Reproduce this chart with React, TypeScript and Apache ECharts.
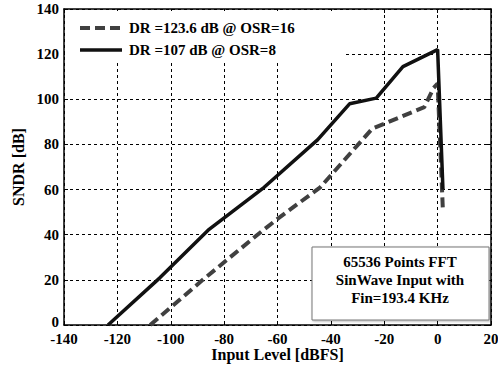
import React, { useEffect, useRef } from "react";
import * as echarts from "echarts";

const seriesNames = ["DR =123.6 dB @ OSR=16", "DR =107 dB @ OSR=8"];
const osr16Input = [-107.7, -88, -67.5, -60, -44, -24.5, -5, -1.5, 0, 2];
const osr16Sndr = [0, 20, 40, 47, 61, 87, 96.5, 105, 107, 50];
const osr8Input = [-123.5, -104, -86, -65, -45, -33, -23, -13, 0, 2];
const osr8Sndr = [0, 21, 42, 61, 82, 98, 100.5, 114.5, 122, 60];
const xTicks = [-140, -120, -100, -80, -60, -40, -20, 0, 20];
const yTicks = [0, 20, 40, 60, 80, 100, 120, 140];
const noteLines = ["65536 Points FFT", "SinWave Input with", "Fin=193.4 KHz"];

const FONT = "Liberation Serif";
const DASH_COLOR = "#404040";
const SOLID_COLOR = "#111";

export default function App() {
  const ref = useRef<HTMLDivElement>(null);
  useEffect(() => {
    if (!ref.current) return;
    const chart = echarts.init(ref.current, null, { renderer: "svg" });
    const pair = (xs: number[], ys: number[]) => xs.map((x, i) => [x, ys[i]]);
    const mkSplit = () => ({ show: true, lineStyle: { color: "#000", width: 1, type: [3, 3] } });
    const mkLine = () => ({ show: true, onZero: false, lineStyle: { color: "#000", width: 1.5 } });
    const mkTick = () => ({ show: true, inside: true, length: 4, lineStyle: { color: "#000" } });
    const nameStyle = { fontFamily: FONT, fontWeight: "bold", fontSize: 16, color: "#000" };
    const legendStyles = [
      { stroke: DASH_COLOR, lineWidth: 4, lineDash: [10, 5] },
      { stroke: SOLID_COLOR, lineWidth: 3.5 },
    ];
    const baseGraphics: any[] = [
      {
        type: "rect", z: 1, shape: { x: 65, y: 11, width: 278, height: 52 },
        style: { fill: "#fff" },
      },
      ...seriesNames.map((n, i) => ({
        type: "line", z: 6,
        shape: { x1: 80, y1: 28 + i * 22, x2: 122, y2: 28 + i * 22 },
        style: legendStyles[i],
      })),
      ...seriesNames.map((n, i) => ({
        type: "text", z: 6, x: 129, y: 28 + i * 22,
        style: { text: n, fontFamily: FONT, fontWeight: "bold", fontSize: 15, fill: "#000", verticalAlign: "middle" },
      })),
      {
        type: "rect", z: 5, shape: { x: 312, y: 247, width: 177, height: 73 },
        style: { fill: "#fff", stroke: "#777", lineWidth: 1, shadowBlur: 2, shadowColor: "rgba(0,0,0,0.3)", shadowOffsetX: 1, shadowOffsetY: 1 },
      },
      ...noteLines.map((t, i) => ({
        type: "text", z: 6, x: 400, y: 262 + i * 18,
        style: { text: t, fontFamily: FONT, fontWeight: "bold", fontSize: 15, fill: "#000", align: "center", verticalAlign: "middle" },
      })),
    ];
    const option: any = {
      animation: false,
      backgroundColor: "#fff",
      grid: { left: 64, right: 7, top: 9, bottom: 41 },
      xAxis: [
        {
          type: "value", min: -140, max: 20, interval: 20,
          axisLine: mkLine(), axisTick: mkTick(), splitLine: mkSplit(),
          axisLabel: { show: false },
          name: "Input Level [dBFS]", nameLocation: "middle", nameGap: 21,
          nameTextStyle: nameStyle,
        },
        {
          type: "value", position: "top", min: -140, max: 20, interval: 20,
          axisLine: mkLine(), axisTick: mkTick(), splitLine: { show: false }, axisLabel: { show: false },
        },
      ],
      yAxis: [
        {
          type: "value", min: 0, max: 140, interval: 20,
          axisLine: mkLine(), axisTick: mkTick(), splitLine: mkSplit(),
          axisLabel: { show: false },
          name: "SNDR [dB]", nameLocation: "middle", nameGap: 38,
          nameTextStyle: nameStyle,
        },
        {
          type: "value", position: "right", min: 0, max: 140, interval: 20,
          axisLine: mkLine(), axisTick: mkTick(), splitLine: { show: false }, axisLabel: { show: false },
        },
      ],
      graphic: baseGraphics,
      series: [
        {
          name: seriesNames[0], type: "line", data: pair(osr16Input, osr16Sndr), symbol: "none",
          lineStyle: { color: DASH_COLOR, width: 4, type: [10, 5] }, itemStyle: { color: DASH_COLOR }, z: 3,
        },
        {
          name: seriesNames[1], type: "line", data: pair(osr8Input, osr8Sndr), symbol: "none",
          lineStyle: { color: SOLID_COLOR, width: 3.5 }, itemStyle: { color: SOLID_COLOR }, z: 3,
        },
      ],
    };
    chart.setOption(option);
    const tickText = { fontFamily: FONT, fontWeight: "bold", fontSize: 15, fill: "#000" };
    const finder = { xAxisIndex: 0, yAxisIndex: 0 };
    const origin = chart.convertToPixel(finder, [xTicks[0], yTicks[0]]) as number[];
    const labelGraphics = [
      ...xTicks.map((v) => {
        const p = chart.convertToPixel(finder, [v, yTicks[0]]) as number[];
        return {
          type: "text", z: 6, x: p[0], y: origin[1] + 14,
          style: { ...tickText, text: String(v), align: "center", verticalAlign: "middle" },
        };
      }),
      ...yTicks.map((v) => {
        const p = chart.convertToPixel(finder, [xTicks[0], v]) as number[];
        return {
          type: "text", z: 6, x: origin[0] - 5, y: v === 0 ? p[1] - 3 : p[1],
          style: { ...tickText, text: String(v), align: "right", verticalAlign: "middle" },
        };
      }),
    ];
    chart.setOption({ graphic: [...baseGraphics, ...labelGraphics] });
    return () => chart.dispose();
  }, []);
  return <div ref={ref} style={{ width: 498, height: 367, position: "absolute", left: 0, top: 0 }} />;
}
